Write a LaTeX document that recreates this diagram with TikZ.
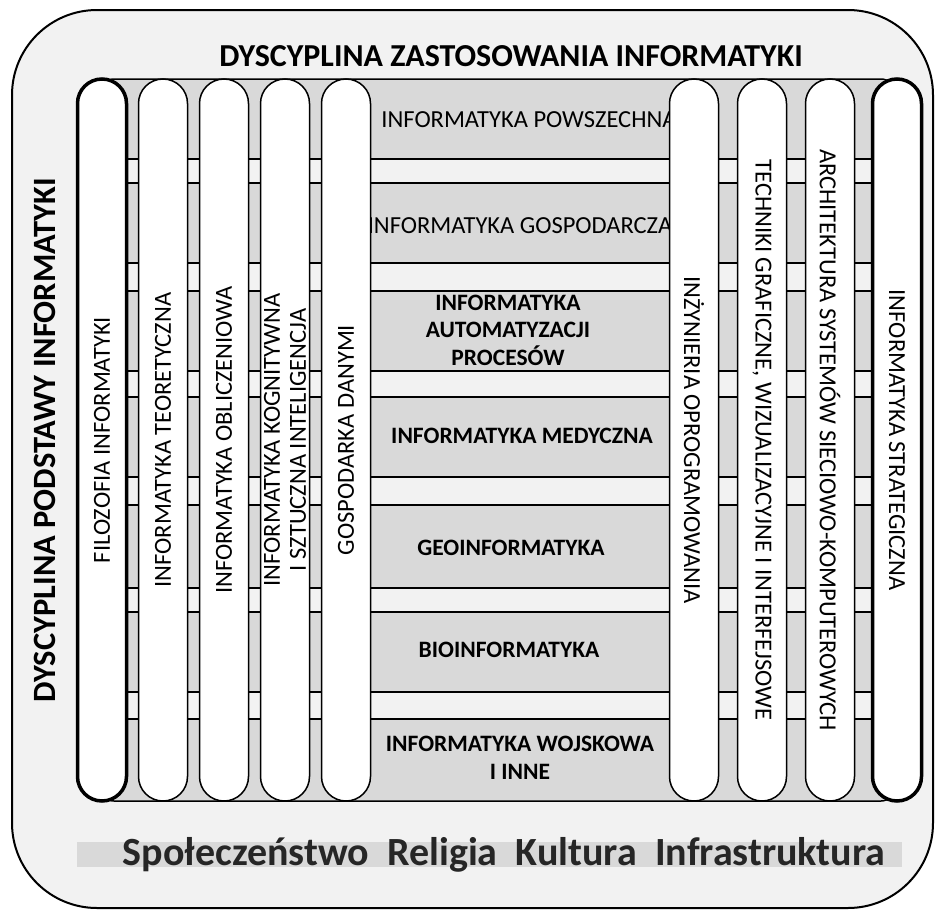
\documentclass[tikz,border=0pt]{standalone}
\usepackage{fontspec}
\setmainfont{Carlito}
\definecolor{paper}{HTML}{F2F2F2}
\definecolor{graytone}{HTML}{D9D9D9}
\begin{document}
\begin{tikzpicture}[x=1pt,y=-1pt,
  outerbox/.style={draw=black, line width=2pt, fill=paper, rounded corners=85pt,
    minimum width=921pt, minimum height=898pt, inner sep=0pt},
  pill/.style={draw=black, line width=1.5pt, fill=white, rounded corners=24.5pt,
    minimum width=722pt, minimum height=49pt, inner sep=0pt, align=center,
    font=\fontsize{24.5}{26}\selectfont},
  heavypill/.style={pill, line width=3.5pt},
  rowtext/.style={align=center, inner sep=0pt, font=\fontsize{24.5}{27.5}\selectfont},
  rowbold/.style={align=center, inner sep=0pt, font=\fontsize{23.5}{27.5}\bfseries\selectfont},
  strip/.style={fill=paper},
  rule/.style={draw=black, line width=1.5pt}
]
\useasboundingbox (0,0) rectangle (935,910);

% outer panel
\node[outerbox] (outer) at (472.5,459) {};

% shaded frame holding the columns and rows
\filldraw[fill=graytone, rule, rounded corners=14pt] (100,79) rectangle (895,801);

% light strips between the rows
\foreach \a/\b in {159/183, 263/291, 371/397, 477/505, 588/612, 692/719}{
  \fill[strip] (100,\a) rectangle (895,\b);
  \draw[rule] (100,\a) -- (895,\a);
  \draw[rule] (100,\b) -- (895,\b);
}

% row labels in the middle
\node[rowtext] (r1) at (529,120) {INFORMATYKA POWSZECHNA};
\node[rowtext] (r2) at (520,226) {INFORMATYKA GOSPODARCZA};
\node[rowbold] (r3) at (508,330) {INFORMATYKA\\AUTOMATYZACJI\\PROCESÓW};
\node[rowbold] (r4) at (522,436) {INFORMATYKA MEDYCZNA};
\node[rowbold] (r5) at (511,548) {GEOINFORMATYKA};
\node[rowbold] (r6) at (509,650) {BIOINFORMATYKA};
\node[rowbold] (r7) at (520,758) {INFORMATYKA WOJSKOWA\\I INNE};

% left columns
\node[heavypill, rotate=90] (p1) at (102,440) {FILOZOFIA INFORMATYKI};
\node[pill, rotate=90] (p2) at (163,440) {INFORMATYKA TEORETYCZNA};
\node[pill, rotate=90] (p3) at (224,440) {INFORMATYKA OBLICZENIOWA};
\node[pill, rotate=90] (p4) at (285,440) {INFORMATYKA KOGNITYWNA\\I SZTUCZNA INTELIGENCJA};
\node[pill, rotate=90] (p5) at (346,440) {GOSPODARKA DANYMI};

% right columns
\node[pill, rotate=-90] (p6) at (694,440) {INŻYNIERIA OPROGRAMOWANIA};
\node[pill, rotate=-90] (p7) at (762,440) {TECHNIKI GRAFICZNE, WIZUALIZACYJNE I INTERFEJSOWE};
\node[pill, rotate=-90] (p8) at (830,440) {ARCHITEKTURA SYSTEMÓW SIECIOWO-KOMPUTEROWYCH};
\node[heavypill, rotate=-90] (p9) at (897,440) {INFORMATYKA STRATEGICZNA};

% headings
\node[font=\fontsize{32}{34}\bfseries\selectfont, inner sep=0pt] (title) at (511,56)
  {DYSCYPLINA ZASTOSOWANIA INFORMATYKI};
\node[font=\fontsize{32.5}{34}\bfseries\selectfont, inner sep=0pt, rotate=90] (base) at (45,440)
  {DYSCYPLINA PODSTAWY INFORMATYKI};

% context band at the bottom
\fill[graytone] (77,842) rectangle (902,867);
\node[font=\fontsize{40}{42}\bfseries\selectfont, inner sep=0pt, text=black!85] (context) at (504,855)
  {Społeczeństwo\ \ Religia\ \ Kultura\ \ Infrastruktura};
\end{tikzpicture}
\end{document}
